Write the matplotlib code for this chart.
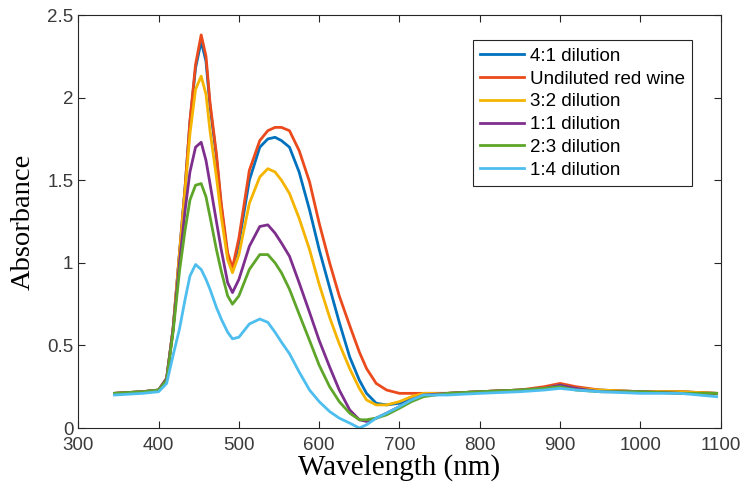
import matplotlib
matplotlib.use('Agg')
from matplotlib import pyplot as plt

wavelength = [345, 380, 400, 410, 418, 426, 433, 439, 446, 453, 459, 464, 472, 478, 486, 492,
              500, 513, 526, 536, 545, 553, 563, 575, 588, 600, 613, 625, 638, 650, 659, 671,
              684, 700, 715, 730, 760, 800, 850, 880, 900, 920, 950, 1000, 1050, 1095]

dil_4_1 = [.21, .22, .23, .3, .6, 1.06, 1.46, 1.85, 2.18, 2.34, 2.22, 1.95, 1.64, 1.34, 1.04, 0.95,
           1.12, 1.5, 1.7, 1.75, 1.76, 1.74, 1.7, 1.55, 1.32, 1.08, 0.85, 0.64, 0.43, 0.29, 0.21, 0.15,
           0.14, 0.15, 0.18, 0.21, 0.21, 0.22, 0.23, 0.24, 0.26, 0.24, 0.23, 0.22, 0.22, 0.21]

undiluted = [.21, .22, .23, .3, .6, 1.06, 1.46, 1.86, 2.2, 2.38, 2.25, 1.97, 1.66, 1.36, 1.06, 0.97,
             1.15, 1.56, 1.74, 1.8, 1.82, 1.82, 1.8, 1.68, 1.49, 1.24, 1.0, 0.8, 0.62, 0.46, 0.36, 0.27,
             0.23, 0.21, 0.21, 0.21, 0.21, 0.22, 0.23, 0.25, 0.27, 0.25, 0.23, 0.22, 0.22, 0.21]

dil_3_2 = [.21, .22, .23, .3, .6, 1.05, 1.44, 1.78, 2.05, 2.13, 2.02, 1.8, 1.52, 1.28, 1.02, 0.94,
           1.05, 1.36, 1.52, 1.57, 1.55, 1.5, 1.42, 1.27, 1.08, 0.87, 0.67, 0.51, 0.36, 0.24, 0.17, 0.14,
           0.14, 0.16, 0.19, 0.21, 0.21, 0.22, 0.23, 0.24, 0.26, 0.24, 0.23, 0.22, 0.22, 0.21]

dil_1_1 = [.21, .22, .23, .3, .6, 1.0, 1.32, 1.55, 1.7, 1.73, 1.62, 1.48, 1.25, 1.08, 0.88, 0.82,
           0.9, 1.1, 1.22, 1.23, 1.18, 1.12, 1.04, 0.88, 0.7, 0.53, 0.37, 0.23, 0.11, 0.05, 0.04, 0.06,
           0.09, 0.13, 0.17, 0.2, 0.21, 0.22, 0.23, 0.24, 0.26, 0.24, 0.22, 0.22, 0.21, 0.21]

dil_2_3 = [.21, .22, .23, .29, .58, 0.95, 1.2, 1.38, 1.47, 1.48, 1.4, 1.28, 1.08, 0.95, 0.8, 0.75,
           0.8, 0.96, 1.05, 1.05, 1.0, 0.94, 0.84, 0.69, 0.53, 0.38, 0.25, 0.16, 0.09, 0.05, 0.05, 0.06,
           0.08, 0.12, 0.16, 0.19, 0.21, 0.22, 0.23, 0.24, 0.25, 0.23, 0.22, 0.22, 0.21, 0.21]

dil_1_4 = [.2, .21, .22, .27, .44, 0.6, 0.78, 0.92, 0.99, 0.96, 0.9, 0.84, 0.73, 0.66, 0.58, 0.54,
           0.55, 0.63, 0.66, 0.64, 0.58, 0.52, 0.45, 0.34, 0.23, 0.16, 0.1, 0.06, 0.03, 0.0, 0.02, 0.06,
           0.09, 0.13, 0.17, 0.2, 0.2, 0.21, 0.22, 0.23, 0.24, 0.23, 0.22, 0.21, 0.21, 0.19]

labels = ['4:1 dilution', 'Undiluted red wine', '3:2 dilution', '1:1 dilution', '2:3 dilution', '1:4 dilution']
series = [dil_4_1, undiluted, dil_3_2, dil_1_1, dil_2_3, dil_1_4]
colors = ['#0072BD', '#EA4A1C', '#F5B400', '#7E2F8E', '#5EA52A', '#4DBEEE']

fig = plt.figure(figsize=(7.46, 4.92), dpi=100)
ax = fig.add_axes([0.105, 0.130, 0.861, 0.8394])

for vals, lab, c in zip(series, labels, colors):
    ax.plot(wavelength, vals, color=c, lw=2.0, label=lab)

ax.set_xlim(300, 1100)
ax.set_ylim(0, 2.5)
ax.set_xticks(range(300, 1101, 100))
ax.set_yticks([0, 0.5, 1, 1.5, 2, 2.5])
ax.set_yticklabels(['0', '0.5', '1', '1.5', '2', '2.5'])

for t in ax.get_xticklabels() + ax.get_yticklabels():
    t.set_fontfamily('Liberation Sans')
    t.set_fontsize(13.5)
    t.set_color('#3a3a3a')

ax.tick_params(direction='in', top=True, right=True, length=5, width=0.8, color='#262626')
ax.tick_params(axis='x', pad=6.5)
for s in ax.spines.values():
    s.set_color('#262626')
    s.set_linewidth(0.8)

ax.set_xlabel('Wavelength (nm)', family='Liberation Serif', fontsize=21, labelpad=0)
ax.set_ylabel('Absorbance', family='Liberation Serif', fontsize=20.5, labelpad=8)

leg = ax.legend(loc='upper left', bbox_to_anchor=(0.614, 0.939), prop={'family': 'Liberation Sans', 'size': 13.5},
                fancybox=False, framealpha=1, edgecolor='#262626', handlelength=2.35,
                labelspacing=0.3, borderaxespad=0, handletextpad=0.3, borderpad=0.4)
leg.get_frame().set_linewidth(0.8)

plt.savefig('out.png', dpi=100)
